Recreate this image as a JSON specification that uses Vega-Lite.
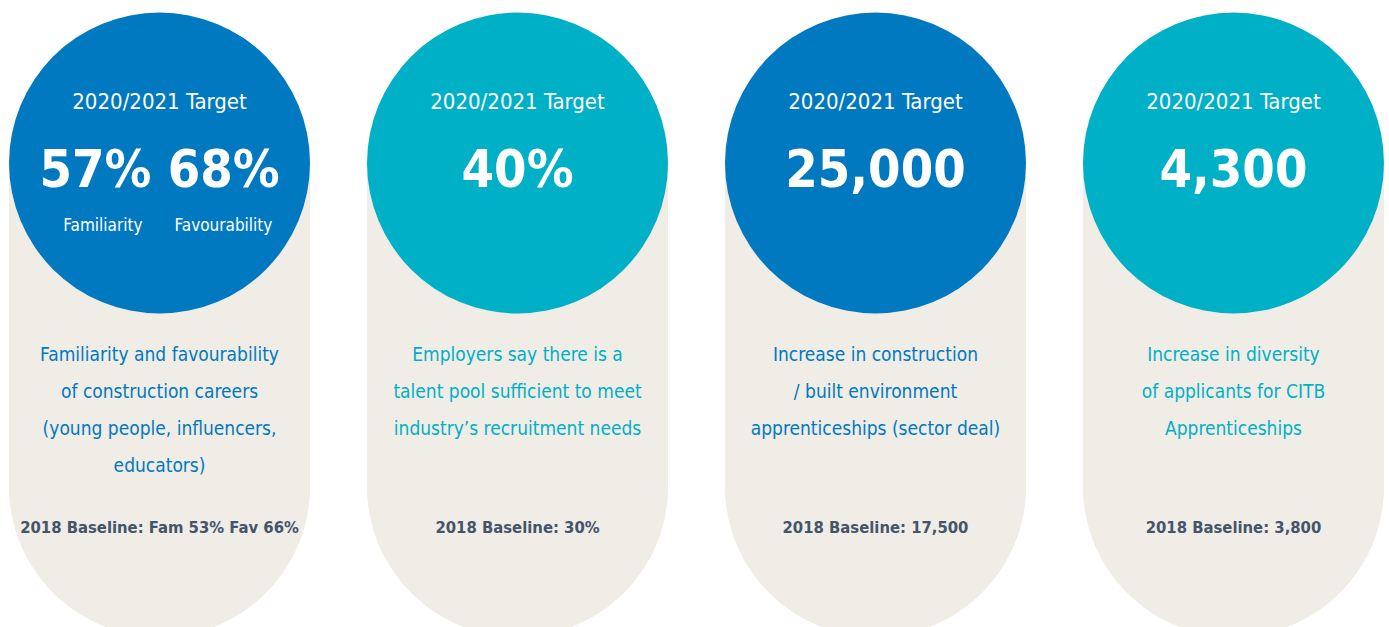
{
  "$schema": "https://vega.github.io/schema/vega-lite/v6.json",
  "width": 1389,
  "height": 627,
  "autosize": {"type": "none"},
  "padding": 0,
  "background": "white",
  "config": {"view": {"stroke": null}},
  "data": {"values": [
    {"panel": "p1", "title": "2020/2021 Target", "target": "57%  68%", "subLeft": "Familiarity", "subRight": "Favourability", "desc": "Familiarity and favourability\nof construction careers\n(young people, influencers,\neducators)", "baseline": "2018 Baseline: Fam 53% Fav 66%"},
    {"panel": "p2", "title": "2020/2021 Target", "target": "40%", "subLeft": "", "subRight": "", "desc": "Employers say there is a\ntalent pool sufficient to meet\nindustry’s recruitment needs", "baseline": "2018 Baseline: 30%"},
    {"panel": "p3", "title": "2020/2021 Target", "target": "25,000", "subLeft": "", "subRight": "", "desc": "Increase in construction\n/ built environment\napprenticeships (sector deal)", "baseline": "2018 Baseline: 17,500"},
    {"panel": "p4", "title": "2020/2021 Target", "target": "4,300", "subLeft": "", "subRight": "", "desc": "Increase in diversity\nof applicants for CITB\nApprenticeships", "baseline": "2018 Baseline: 3,800"}
  ]},
  "encoding": {
    "x": {"field": "panel", "type": "nominal", "scale": {"type": "band", "range": [9, 1384], "paddingInner": 0.159, "paddingOuter": 0}, "axis": null}
  },
  "layer": [
    {
      "mark": {"type": "rect", "color": "#F0ECE6", "cornerRadiusBottomLeft": 150.5, "cornerRadiusBottomRight": 150.5},
      "encoding": {
        "y": {"datum": 163, "type": "quantitative", "scale": {"domain": [0, 627], "reverse": true, "nice": false, "zero": false}, "axis": null},
        "y2": {"datum": 637}
      }
    },
    {
      "mark": {"type": "point", "shape": "circle", "filled": true, "opacity": 1, "size": 90601, "strokeWidth": 0},
      "encoding": {
        "y": {"datum": 163, "type": "quantitative"},
        "color": {"field": "panel", "type": "nominal", "scale": {"domain": ["p1", "p2", "p3", "p4"], "range": ["#0079C1", "#00B0C6", "#0079C1", "#00B0C6"]}, "legend": null}
      }
    },
    {
      "mark": {"type": "text", "color": "white", "fontSize": 22, "font": "DejaVu Sans Condensed", "baseline": "alphabetic", "align": "center"},
      "encoding": {"y": {"datum": 109, "type": "quantitative"}, "text": {"field": "title"}}
    },
    {
      "mark": {"type": "text", "color": "white", "fontSize": 52, "fontWeight": "bold", "font": "DejaVu Sans Condensed", "baseline": "alphabetic", "align": "center"},
      "encoding": {"y": {"datum": 187, "type": "quantitative"}, "text": {"field": "target"}}
    },
    {
      "mark": {"type": "text", "color": "white", "fontSize": 17, "font": "DejaVu Sans Condensed", "baseline": "alphabetic", "align": "right", "dx": -17},
      "encoding": {"y": {"datum": 231, "type": "quantitative"}, "text": {"field": "subLeft"}}
    },
    {
      "mark": {"type": "text", "color": "white", "fontSize": 17, "font": "DejaVu Sans Condensed", "baseline": "alphabetic", "align": "left", "dx": 15},
      "encoding": {"y": {"datum": 231, "type": "quantitative"}, "text": {"field": "subRight"}}
    },
    {
      "mark": {"type": "text", "fontSize": 19, "font": "DejaVu Sans Condensed", "baseline": "alphabetic", "align": "center", "lineBreak": "\n", "lineHeight": 37},
      "encoding": {
        "y": {"datum": 361, "type": "quantitative"},
        "text": {"field": "desc"},
        "color": {"field": "panel", "type": "nominal", "legend": null}
      }
    },
    {
      "mark": {"type": "text", "color": "#44546A", "fontSize": 16.5, "fontWeight": "bold", "font": "DejaVu Sans Condensed", "baseline": "alphabetic", "align": "center"},
      "encoding": {"y": {"datum": 533, "type": "quantitative"}, "text": {"field": "baseline"}}
    }
  ]
}
